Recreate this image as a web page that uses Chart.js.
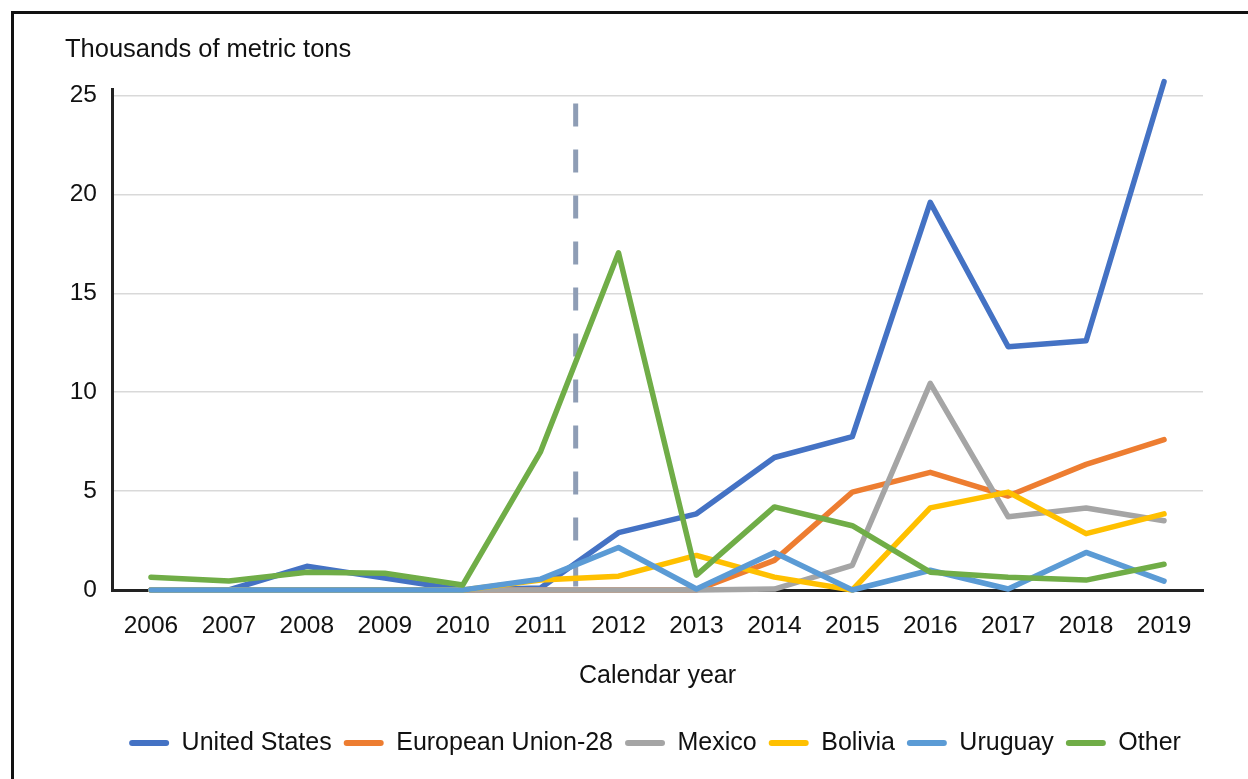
<!DOCTYPE html>
<html>
<head>
<meta charset="utf-8">
<script src="https://cdn.jsdelivr.net/npm/chart.js@4.4.1/dist/chart.umd.min.js"></script>
<style>
  html, body { margin: 0; padding: 0; background: #fff; }
  #wrap { position: relative; width: 1248px; height: 779px; overflow: hidden; }
  #frame { position: absolute; left: 11px; top: 11px; width: 1300px; height: 900px;
           border-top: 3px solid #111; border-left: 3px solid #111; }
  #myChart { position: absolute; left: 0; top: 0; }
</style>
</head>
<body>
<div id="wrap">
  <div id="frame"></div>
  <canvas id="myChart" width="1248" height="779"></canvas>
</div>
<script>
// calendar years on the x axis
var years = ['2006','2007','2008','2009','2010','2011','2012','2013','2014','2015','2016','2017','2018','2019'];

// thousands of metric tons
var unitedStates   = [0, 0, 1.2, 0.6, 0, 0.1, 2.9, 3.85, 6.7, 7.75, 19.6, 12.3, 12.6, 25.7];
var europeanUnion  = [0, 0, 0, 0, 0, 0, 0, 0, 1.5, 4.95, 5.95, 4.75, 6.35, 7.6];
var mexico         = [0, 0, 0, 0, 0, 0, 0, 0, 0.05, 1.25, 10.45, 3.7, 4.15, 3.5];
var bolivia        = [0, 0, 0, 0, 0, 0.5, 0.7, 1.75, 0.65, 0, 4.15, 4.95, 2.85, 3.85];
var uruguay        = [0, 0, 0, 0, 0, 0.55, 2.15, 0.05, 1.9, 0, 1.0, 0.05, 1.9, 0.45];
var other          = [0.65, 0.45, 0.9, 0.85, 0.25, 7.0, 17.05, 0.75, 4.2, 3.25, 0.9, 0.65, 0.5, 1.3];

var yTicks = [0, 5, 10, 15, 20, 25];
var dashedAt = 5.45; // category position of the vertical marker (between 2011 and 2012)

var FONT = "'Liberation Sans', Arial, sans-serif";
Chart.defaults.font.family = FONT;
Chart.defaults.color = '#111';

function serie(label, data, color, order) {
  return {
    label: label,
    data: data,
    borderColor: color,
    backgroundColor: color,
    borderWidth: 5.5,
    borderJoinStyle: 'round',
    borderCapStyle: 'round',
    pointRadius: 0,
    pointHoverRadius: 0,
    tension: 0,
    fill: false,
    clip: false,
    order: order
  };
}

// dashed vertical line, placed through the x scale
var markerLine = {
  id: 'markerLine',
  beforeDatasetsDraw: function(chart) {
    var x = chart.scales.x;
    var y = chart.scales.y;
    var p0 = x.getPixelForValue(Math.floor(dashedAt));
    var p1 = x.getPixelForValue(Math.floor(dashedAt) + 1);
    var px = p0 + (p1 - p0) * (dashedAt - Math.floor(dashedAt));
    var ctx = chart.ctx;
    ctx.save();
    ctx.strokeStyle = '#8e9db5';
    ctx.lineWidth = 5;
    ctx.setLineDash([23, 23]);
    ctx.beginPath();
    ctx.moveTo(px, y.getPixelForValue(24.6));
    ctx.lineTo(px, y.getPixelForValue(0));
    ctx.stroke();
    ctx.restore();
  }
};

// nudge the legend a little to the right, as in the original
var legendShift = {
  id: 'legendShift',
  afterLayout: function(chart) {
    if (chart.legend) {
      chart.legend.left += 21;
      chart.legend.right += 21;
    }
  }
};

var ctx = document.getElementById('myChart');
var chart = new Chart(ctx, {
  type: 'line',
  data: {
    labels: years,
    datasets: [
      serie('United States', unitedStates, '#4472c4', 6),
      serie('European Union-28', europeanUnion, '#ed7d31', 5),
      serie('Mexico', mexico, '#a5a5a5', 4),
      serie('Bolivia', bolivia, '#ffc000', 3),
      serie('Uruguay', uruguay, '#5b9bd5', 2),
      serie('Other', other, '#70ad47', 1)
    ]
  },
  plugins: [markerLine, legendShift],
  options: {
    responsive: false,
    animation: false,
    layout: { padding: { left: 65, right: 45, top: 20, bottom: 13.5 } },
    plugins: {
      tooltip: { enabled: false },
      title: {
        display: true,
        text: 'Thousands of metric tons',
        align: 'start',
        color: '#111',
        font: { size: 25.5, weight: 'normal', family: FONT },
        padding: { top: 15, bottom: 24 }
      },
      legend: {
        position: 'bottom',
        labels: {
          color: '#111',
          font: { size: 25, family: FONT },
          boxWidth: 40,
          boxHeight: 6,
          useBorderRadius: true,
          borderRadius: 3,
          padding: 12,
          sort: function(a, b) { return a.datasetIndex - b.datasetIndex; },
          generateLabels: function(chart) {
            var items = Chart.defaults.plugins.legend.labels.generateLabels(chart);
            items.forEach(function(it) { it.lineWidth = 0; });
            return items;
          }
        }
      }
    },
    scales: {
      x: {
        offset: true,
        grid: { display: false, drawTicks: false },
        border: { display: true, color: '#222', width: 3 },
        ticks: { color: '#111', font: { size: 24.5 }, padding: 22, maxRotation: 0 },
        title: {
          display: true,
          text: 'Calendar year',
          color: '#111',
          font: { size: 25 },
          padding: { top: 10, bottom: 27.5 }
        },
        afterFit: function(scale) { scale.height = 128.5; }
      },
      y: {
        min: 0,
        max: 25.3,
        grid: { color: '#d9d9d9', lineWidth: 1.5, drawTicks: false },
        border: { display: true, color: '#222', width: 3 },
        ticks: { color: '#111', font: { size: 24.5 }, padding: 15, stepSize: 5 },
        afterBuildTicks: function(scale) {
          scale.ticks = yTicks.map(function(v) { return { value: v }; });
        },
        afterFit: function(scale) { scale.width = 47; }
      }
    }
  }
});
</script>
</body>
</html>
